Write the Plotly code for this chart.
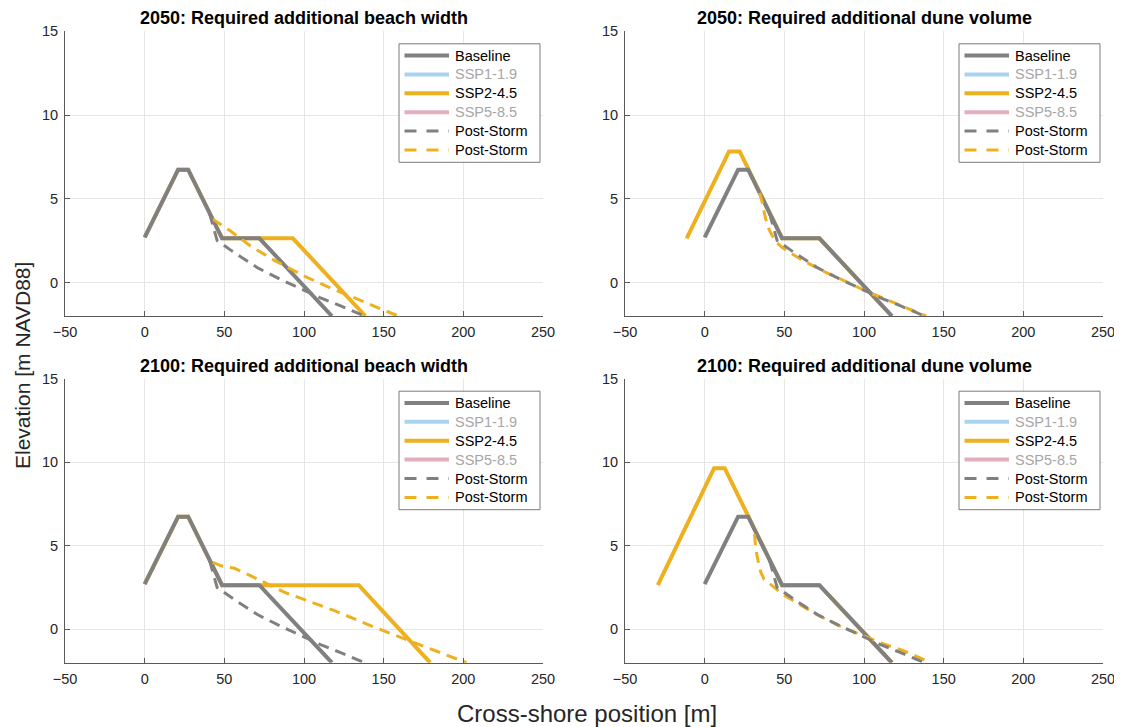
import plotly.graph_objects as go

# ---------------- data ----------------
titles = [
    "2050: Required additional beach width",
    "2050: Required additional dune volume",
    "2100: Required additional beach width",
    "2100: Required additional dune volume",
]
x_ticks = [-50, 0, 50, 100, 150, 200, 250]
y_ticks = [0, 5, 10, 15]
legend_labels = ["Baseline", "SSP1-1.9", "SSP2-4.5", "SSP5-8.5", "Post-Storm", "Post-Storm"]

baseline_x = [0, 21, 27.3, 48.6, 72, 117.5]
baseline_y = [2.7, 6.74, 6.74, 2.64, 2.64, -2.0]

base_storm_x = [40.8, 43, 45.5, 56, 71, 85, 98, 110, 123, 138]
base_storm_y = [4.1, 3.3, 2.5, 1.8, 0.87, 0.2, -0.35, -0.9, -1.4, -2.0]

# SSP2-4.5 profiles per panel
ssp2_x_p1 = [0, 21, 27.3, 48.6, 93, 138.5]
ssp2_y_p1 = [2.7, 6.74, 6.74, 2.64, 2.64, -2.0]
ssp2_storm_x_p1 = [42.5, 44.5, 53.9, 66.4, 82, 101.9, 118.5, 143.6, 159]
ssp2_storm_y_p1 = [3.8, 3.67, 3.07, 2.18, 1.29, 0.3, -0.4, -1.39, -2.0]

ssp2_x_p2 = [-11.3, 15.3, 22, 48.6, 72, 117.5]
ssp2_y_p2 = [2.64, 7.83, 7.83, 2.64, 2.64, -2.0]
ssp2_storm_x_p2 = [34.5, 36.2, 38, 40.4, 44, 48.7, 60, 75, 90, 101, 113.5, 126, 139]
ssp2_storm_y_p2 = [5.35, 4.76, 3.9, 3.17, 2.5, 2.08, 1.4, 0.65, 0.0, -0.5, -1.0, -1.5, -2.0]

ssp2_x_p3 = [0, 21, 27.3, 48.6, 134.4, 179.2]
ssp2_y_p3 = [2.7, 6.74, 6.74, 2.64, 2.64, -2.0]
ssp2_storm_x_p3 = [42.7, 48, 56.3, 60, 66.7, 87.5, 118.75, 143.75, 172.9, 202]
ssp2_storm_y_p3 = [4.0, 3.8, 3.65, 3.5, 3.2, 2.22, 1.13, 0.14, -0.95, -2.0]

ssp2_x_p4 = [-29.4, 5.9, 12.6, 48.6, 72, 117.5]
ssp2_y_p4 = [2.64, 9.64, 9.64, 2.64, 2.64, -2.0]
ssp2_storm_x_p4 = [31.3, 32.1, 34.2, 35.3, 37.3, 44.7, 48.8, 69.8, 84.5, 109.6, 124.3, 141]
ssp2_storm_y_p4 = [5.7, 4.78, 3.79, 3.4, 3.0, 2.4, 2.1, 0.91, 0.21, -0.78, -1.27, -1.95]

ssp2_sets = [
    (ssp2_x_p1, ssp2_y_p1, ssp2_storm_x_p1, ssp2_storm_y_p1),
    (ssp2_x_p2, ssp2_y_p2, ssp2_storm_x_p2, ssp2_storm_y_p2),
    (ssp2_x_p3, ssp2_y_p3, ssp2_storm_x_p3, ssp2_storm_y_p3),
    (ssp2_x_p4, ssp2_y_p4, ssp2_storm_x_p4, ssp2_storm_y_p4),
]

# ---------------- style ----------------
# the page body has an 8px margin, so the figure is drawn 8px smaller and
# all window-pixel positions below are shifted by OFF
OFF = 8
W, H = 1122 - OFF, 727 - OFF
GRAY = "#808080"
BLUE = "#a9d3ef"
ORANGE = "#EDB120"
PINK = "#e4afbc"
FADED = "#a6a6a6"
FONT = "Liberation Sans, Arial, sans-serif"
TXT = "#262626"
PLOT_DASH = "11px,7px"

legend_colors = [GRAY, BLUE, ORANGE, PINK, GRAY, ORANGE]
legend_text_colors = ["#000000", FADED, "#000000", FADED, "#000000", "#000000"]
legend_dashed = [False, False, False, False, True, True]

# panel boxes in window pixels (left, right, top, bottom)
boxes = [
    (65, 543, 31.3, 316),
    (625, 1103, 31.3, 316),
    (65, 543, 378.7, 662.7),
    (625, 1103, 378.7, 662.7),
]


def px(v):
    return (v - OFF) / W


def py(v):
    return 1 - (v - OFF) / H


fig = go.Figure()
layout = {}
shapes = []
annotations = []

for i, (l, r, t, b) in enumerate(boxes):
    n = "" if i == 0 else str(i + 1)
    xa, ya = "x" + n, "y" + n
    sx, sy, stx, sty = ssp2_sets[i]

    # drawing order: SSP2 solid, baseline, SSP2 storm, baseline storm
    fig.add_trace(go.Scatter(x=sx, y=sy, mode="lines", name="SSP2-4.5",
                             line=dict(color=ORANGE, width=4), xaxis=xa, yaxis=ya,
                             showlegend=False))
    fig.add_trace(go.Scatter(x=baseline_x, y=baseline_y, mode="lines", name="Baseline",
                             line=dict(color=GRAY, width=4), xaxis=xa, yaxis=ya,
                             showlegend=False))
    fig.add_trace(go.Scatter(x=stx, y=sty, mode="lines", name="Post-Storm",
                             line=dict(color=ORANGE, width=3, dash=PLOT_DASH),
                             xaxis=xa, yaxis=ya, showlegend=False))
    fig.add_trace(go.Scatter(x=base_storm_x, y=base_storm_y, mode="lines", name="Post-Storm",
                             line=dict(color=GRAY, width=3, dash=PLOT_DASH),
                             xaxis=xa, yaxis=ya, showlegend=False))

    axis_common = dict(showline=True, linecolor="#595959", linewidth=1, mirror=False,
                       ticks="inside", ticklen=5, tickcolor="#595959",
                       showgrid=True, gridcolor="#e6e6e6", gridwidth=1, zeroline=False,
                       automargin=False,
                       tickfont=dict(family=FONT, size=14.5, color=TXT))
    layout["xaxis" + n] = dict(domain=[px(l), px(r)], range=[-50, 250], tickvals=x_ticks,
                               anchor=ya, ticklabelstandoff=3, **axis_common)
    layout["yaxis" + n] = dict(domain=[py(b), py(t)], range=[-2, 15], tickvals=y_ticks,
                               anchor=xa, ticklabelstandoff=3, **axis_common)

    # title
    annotations.append(dict(text=f"<b>{titles[i]}</b>", x=px((l + r) / 2), y=py(t - 13),
                            xref="paper", yref="paper", showarrow=False,
                            xanchor="center", yanchor="middle",
                            font=dict(family=FONT, size=18, color="#000000")))

    # legend (drawn box, samples and labels)
    bl, br = r - 144, r - 3
    bt, bb = t + 12.5, t + 131
    shapes.append(dict(type="rect", xref="paper", yref="paper",
                       x0=px(bl), x1=px(br), y0=py(bb), y1=py(bt),
                       line=dict(color="#7a7a7a", width=1), fillcolor="white", layer="above"))
    for k, lab in enumerate(legend_labels):
        yy = bt + 11.7 + k * 18.9
        shapes.append(dict(type="line", xref="paper", yref="paper",
                           x0=px(bl + 5.5), x1=px(bl + 50), y0=py(yy), y1=py(yy),
                           line=dict(color=legend_colors[k],
                                     width=3 if legend_dashed[k] else 4,
                                     dash="12px,10px" if legend_dashed[k] else "solid"),
                           layer="above"))
        annotations.append(dict(text=lab, x=px(bl + 54), y=py(yy), xref="paper", yref="paper",
                                showarrow=False, xanchor="left", yanchor="middle",
                                font=dict(family=FONT, size=14.5, color=legend_text_colors[k])))

annotations.append(dict(text="Elevation [m NAVD88]", x=px(22), y=py(366), xref="paper",
                        yref="paper", showarrow=False, textangle=-90,
                        xanchor="center", yanchor="middle",
                        font=dict(family=FONT, size=21, color=TXT)))
annotations.append(dict(text="Cross-shore position [m]", x=px(587), y=py(713), xref="paper",
                        yref="paper", showarrow=False, xanchor="center", yanchor="middle",
                        font=dict(family=FONT, size=24, color=TXT)))

fig.update_layout(width=W, height=H, margin=dict(l=0, r=0, t=0, b=0, autoexpand=False),
                  paper_bgcolor="white", plot_bgcolor="white",
                  showlegend=False, annotations=annotations, shapes=shapes, **layout)

fig.write_html("out.html")
